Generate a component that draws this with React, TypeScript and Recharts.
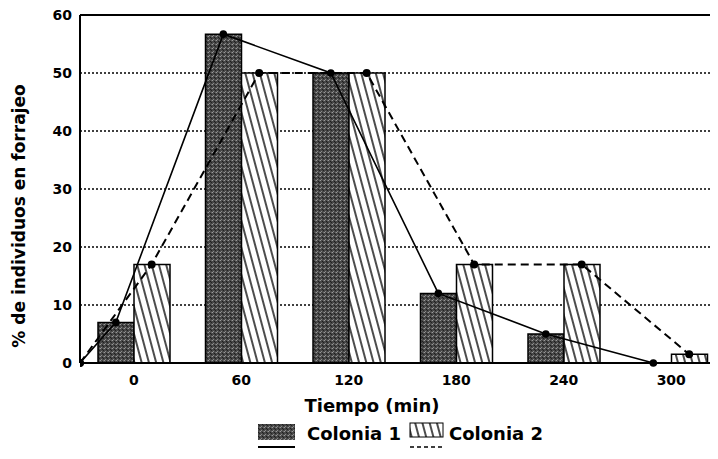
import React from "react";
import {
  ComposedChart,
  Bar,
  Line,
  XAxis,
  YAxis,
  CartesianGrid,
  ReferenceLine,
} from "recharts";

const times = [0, 60, 120, 180, 240, 300];
const colonia1 = [7, 56.7, 50, 12, 5, 0];
const colonia2 = [17, 50, 50, 17, 17, 1.5];
const yTicks = [0, 10, 20, 30, 40, 50, 60];
const startPoint = { t: -30, v: 0 };

const barData = times.map((t, i) => ({ time: String(t), c1: colonia1[i], c2: colonia2[i] }));
// line points sit on each bar's centre (bar offset = 10 minutes on the time axis)
const line1 = [startPoint, ...times.map((t, i) => ({ t: t - 10, v: colonia1[i] }))];
const line2 = [startPoint, ...times.map((t, i) => ({ t: t + 10, v: colonia2[i] }))];

const FONT = "'DejaVu Sans', sans-serif";

const Patterns = ({ p }: { p: string }) => (
  <defs>
    <pattern id={p + "speck"} patternUnits="userSpaceOnUse" width="4" height="4">
      <rect width="4" height="4" fill="#474747" />
      <rect x="0" y="0" width="1" height="1" fill="#9a9a9a" />
      <rect x="2" y="1" width="1" height="1" fill="#1e1e1e" />
      <rect x="1" y="3" width="1" height="1" fill="#8a8a8a" />
      <rect x="3" y="2" width="1" height="1" fill="#222" />
      <rect x="3" y="0" width="1" height="1" fill="#666" />
    </pattern>
    <pattern
      id={p + "hatch"}
      patternUnits="userSpaceOnUse"
      width="7"
      height="7"
      patternTransform="rotate(-15)"
    >
      <rect width="7" height="7" fill="#fff" />
      <line x1="1" y1="0" x2="1" y2="7" stroke="#000" strokeWidth="1.4" />
    </pattern>
  </defs>
);

export default function App() {
  return (
    <div
      style={{
        margin: -8,
        width: 718,
        height: 459,
        overflow: "hidden",
        position: "relative",
        background: "#fff",
        fontFamily: FONT,
      }}
    >
      <ComposedChart
        width={740}
        height={459}
        data={barData}
        margin={{ top: 15, right: 15, bottom: 66, left: 20 }}
        barGap={0}
      >
        <Patterns p="c" />
        <CartesianGrid vertical={false} stroke="#000" strokeWidth={1.4} strokeDasharray="2 2" />
        <XAxis
          xAxisId="cat"
          dataKey="time"
          type="category"
          axisLine={{ stroke: "#000", strokeWidth: 2 }}
          tickLine={false}
          tickMargin={6}
          height={30}
          tick={{ fill: "#000", fontSize: 14, fontWeight: "bold", fontFamily: FONT }}
        />
        <XAxis xAxisId="t" dataKey="t" type="number" domain={[-30, 330]} hide allowDataOverflow />
        <YAxis
          domain={[0, 60]}
          ticks={yTicks}
          width={60}
          axisLine={{ stroke: "#000", strokeWidth: 2 }}
          tickLine={false}
          tick={{ fill: "#000", fontSize: 14, fontWeight: "bold", fontFamily: FONT }}
        />
        <ReferenceLine xAxisId="cat" y={60} stroke="#000" strokeWidth={2} />
        <Bar
          xAxisId="cat"
          dataKey="c1"
          barSize={36}
          fill="url(#cspeck)"
          stroke="#000"
          strokeWidth={1.5}
          isAnimationActive={false}
        />
        <Bar
          xAxisId="cat"
          dataKey="c2"
          barSize={36}
          fill="url(#chatch)"
          stroke="#000"
          strokeWidth={1.5}
          isAnimationActive={false}
        />
        <Line
          xAxisId="t"
          data={line1}
          dataKey="v"
          type="linear"
          stroke="#000"
          strokeWidth={1.6}
          dot={{ r: 3, fill: "#000", stroke: "#000" }}
          isAnimationActive={false}
        />
        <Line
          xAxisId="t"
          data={line2}
          dataKey="v"
          type="linear"
          stroke="#000"
          strokeWidth={2}
          strokeDasharray="8 5"
          dot={{ r: 3, fill: "#000", stroke: "#000", strokeDasharray: "0" }}
          isAnimationActive={false}
        />
      </ComposedChart>

      <div
        style={{
          position: "absolute",
          left: 19,
          top: 216,
          transform: "translate(-50%, -50%) rotate(-90deg)",
          whiteSpace: "nowrap",
          fontSize: 17,
          fontWeight: "bold",
          color: "#000",
        }}
      >
        % de individuos en forrajeo
      </div>
      <div
        style={{
          position: "absolute",
          left: 372,
          top: 405,
          transform: "translate(-50%, -50%)",
          whiteSpace: "nowrap",
          fontSize: 18,
          fontWeight: "bold",
          color: "#000",
        }}
      >
        Tiempo (min)
      </div>

      <svg
        width={718}
        height={40}
        style={{ position: "absolute", left: 0, top: 419 }}
      >
        <Patterns p="l" />
        <rect x={258} y={5} width={37} height={16} fill="url(#lspeck)" />
        <line x1={258} y1={28} x2={295} y2={28} stroke="#000" strokeWidth={2} />
        <text x={307} y={21} fontSize={18} fontWeight="bold" fontFamily={FONT} fill="#000">
          Colonia 1
        </text>
        <rect x={410} y={4} width={33} height={14} fill="url(#lhatch)" stroke="#000" strokeWidth={1} />
        <line x1={410} y1={28} x2={443} y2={28} stroke="#000" strokeWidth={1.5} strokeDasharray="4 3" />
        <text x={449} y={21} fontSize={18} fontWeight="bold" fontFamily={FONT} fill="#000">
          Colonia 2
        </text>
      </svg>
    </div>
  );
}
